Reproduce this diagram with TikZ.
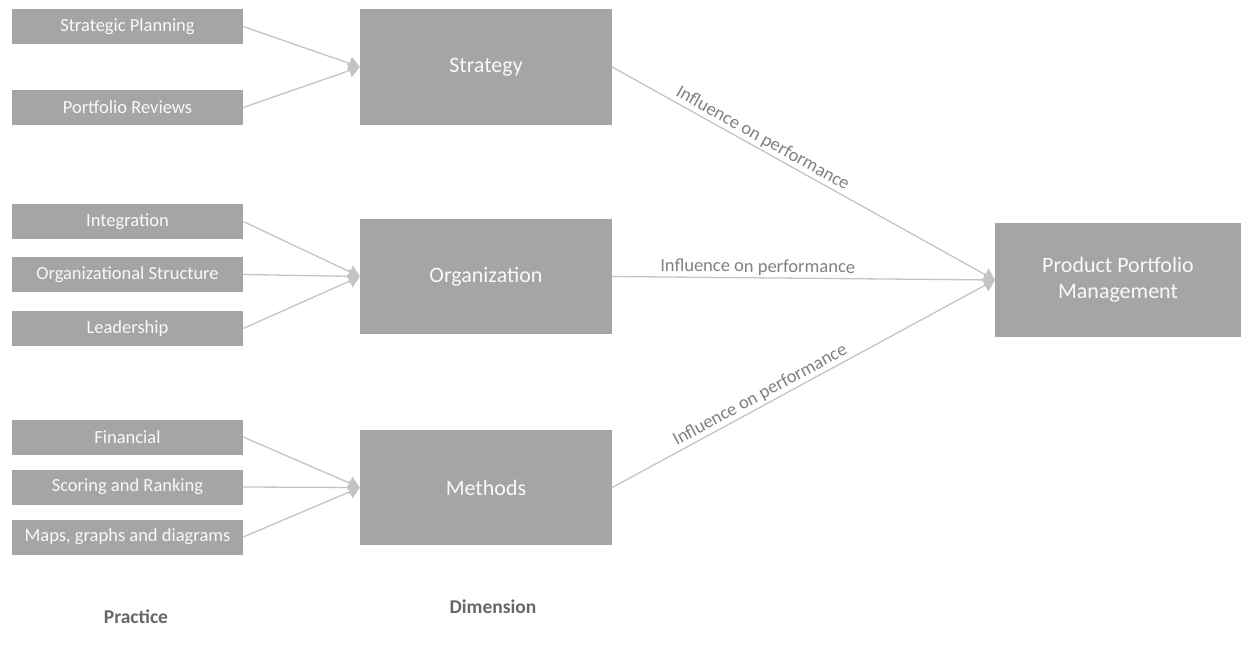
\documentclass[tikz,border=0pt]{standalone}
\usepackage{fontspec}
\setmainfont{Carlito}
\usetikzlibrary{arrows.meta}
\definecolor{boxgray}{HTML}{A5A5A5}
\definecolor{linegray}{HTML}{C4C4C4}
\definecolor{labgray}{HTML}{808080}
\definecolor{headgray}{HTML}{666666}
\tikzset{
  pbox/.style={fill=boxgray, draw=none, minimum width=231pt, minimum height=35pt, inner sep=0pt, text=white!95!gray, font=\fontsize{18.5}{20}\selectfont},
  dbox/.style={fill=boxgray, draw=none, minimum width=252pt, minimum height=115pt, inner sep=0pt, text=white!95!gray, font=\fontsize{22}{24}\selectfont},
  conn/.style={draw=linegray, line width=1.3pt, -{Triangle[length=11pt,width=14pt,fill=linegray]}},
  lab/.style={text=labgray, font=\fontsize{18.5}{20}\selectfont, inner sep=2pt},
  head/.style={text=headgray, font=\fontsize{19.5}{21}\selectfont\bfseries}
}
\begin{document}
\begin{tikzpicture}[x=1pt,y=-1pt]
\useasboundingbox (0,0) rectangle (1243,651);
% practice boxes
\node[pbox] (sp) at (127.5,26.5) {Strategic Planning};
\node[pbox] (pr) at (127.5,107.5) {Portfolio Reviews};
\node[pbox] (in) at (127.5,221.5) {Integration};
\node[pbox] (os) at (127.5,274.5) {Organizational Structure};
\node[pbox] (le) at (127.5,328.5) {Leadership};
\node[pbox] (fi) at (127.5,437) {Financial};
\node[pbox] (sr) at (127.5,487) {Scoring and Ranking};
\node[pbox] (mg) at (127.5,537) {Maps, graphs and diagrams};
% dimension boxes
\node[dbox, minimum height=116pt] (st) at (486,67) {Strategy};
\node[dbox] (or) at (486,276.5) {Organization};
\node[dbox] (me) at (486,487.5) {Methods};
\node[dbox, minimum width=246pt, minimum height=114pt, align=center, font=\fontsize{22}{26}\selectfont] (pp) at (1118,280) {Product Portfolio\\Management};
% connectors
\draw[conn] (sp.east) -- (st.west);
\draw[conn] (pr.east) -- (st.west);
\draw[conn] (in.east) -- (or.west);
\draw[conn] (os.east) -- (or.west);
\draw[conn] (le.east) -- (or.west);
\draw[conn] (fi.east) -- (me.west);
\draw[conn] (sr.east) -- (me.west);
\draw[conn] (mg.east) -- (me.west);
\draw[conn] (st.east) -- node[lab, pos=0.38, sloped, above] {Influence on performance} (pp.west);
\draw[conn] (or.east) -- node[lab, pos=0.38, sloped, above] {Influence on performance} (pp.west);
\draw[conn] (me.east) -- node[lab, pos=0.40, sloped, above] {Influence on performance} (pp.west);
% headings
\node[head] (hp) at (136,617) {Practice};
\node[head] (hd) at (493,607) {Dimension};
\end{tikzpicture}
\end{document}
